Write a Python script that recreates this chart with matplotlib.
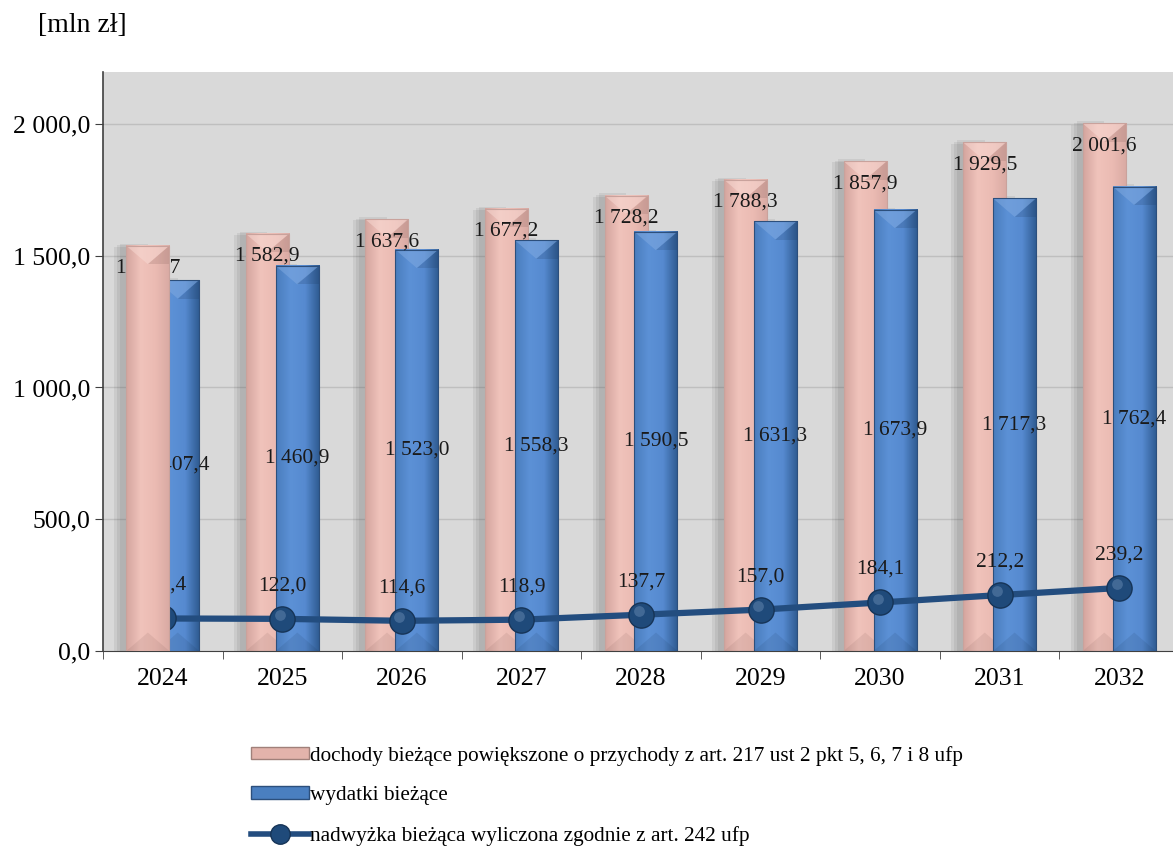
import numpy as np
import matplotlib
matplotlib.use("Agg")
import matplotlib.pyplot as plt
from matplotlib.lines import Line2D
from matplotlib.patches import Patch
from matplotlib.colors import LinearSegmentedColormap

years = ["2024", "2025", "2026", "2027", "2028", "2029", "2030", "2031", "2032"]
dochody = [1537.7, 1582.9, 1637.6, 1677.2, 1728.2, 1788.3, 1857.9, 1929.5, 2001.6]
wydatki = [1407.4, 1460.9, 1523.0, 1558.3, 1590.5, 1631.3, 1673.9, 1717.3, 1762.4]
nadwyzka = [123.4, 122.0, 114.6, 118.9, 137.7, 157.0, 184.1, 212.2, 239.2]
yticks = [0, 500, 1000, 1500, 2000]

labels_legend = ["dochody bieżące powiększone o przychody z art. 217 ust 2 pkt 5, 6, 7 i 8 ufp",
                 "wydatki bieżące",
                 "nadwyżka bieżąca wyliczona zgodnie z art. 242 ufp"]

def fmt(v):
    return f"{v:,.1f}".replace(",", " ").replace(".", ",")

plt.rcParams['font.family'] = ['Liberation Serif', 'DejaVu Serif']
fig = plt.figure(figsize=(11.73, 8.47), dpi=100)
ax = fig.add_axes([103/1173, 1 - 651/847, 1076/1173, (651 - 72)/847])

ax.set_xlim(-0.5, 8.5)
ax.set_ylim(0, 2197)
ax.set_facecolor("#d9d9d9")
for y in yticks[1:]:
    ax.axhline(y, color="#bfbfbf", lw=1, zorder=0.5)

x = np.arange(len(years))
w = 0.36
off = 0.125

pink_cmap = LinearSegmentedColormap.from_list("p", ["#d4a59e", "#f0c3bb", "#ebbbb3", "#d9aaa3"])
blue_cmap = LinearSegmentedColormap.from_list("b", ["#4a7dbd", "#5c91d6", "#568ad0", "#2e5a90"])
gradient = np.linspace(0, 1, 64).reshape(1, -1)

def draw_bars(xs, vals, cmap, edge, z_list, bevel_light, bevel_dark):
    bars = ax.bar(xs, vals, width=w, color="none", edgecolor="none", lw=0, zorder=0)
    for b, z in zip(bars, z_list):
        x0, y0 = b.get_x(), b.get_y()
        bw, bh = b.get_width(), b.get_height()
        for k, a in enumerate([0.10, 0.10, 0.10]):
            ax.fill_between([x0 - 0.05 - 0.025 * k, x0 + bw / 2], 0, bh + 8 - 6 * k,
                            color="#505050", alpha=a, zorder=1, lw=0)
        ax.imshow(gradient, extent=[x0, x0 + bw, y0, y0 + bh], aspect="auto",
                  cmap=cmap, vmin=0, vmax=1, zorder=z, interpolation="bicubic")
        th = 70
        ax.fill([x0, x0 + bw, x0 + bw / 2], [y0 + bh, y0 + bh, y0 + bh - th],
                color=bevel_light, alpha=0.55, zorder=z + 0.1, lw=0)
        ax.fill([x0 + bw, x0 + bw, x0 + bw / 2], [y0 + bh, y0 + bh - th, y0 + bh - th],
                color=bevel_dark, alpha=0.18, zorder=z + 0.1, lw=0)
        ax.fill([x0, x0 + bw, x0 + bw / 2], [y0, y0, y0 + th],
                color=bevel_dark, alpha=0.12, zorder=z + 0.1, lw=0)
        ax.plot([x0, x0, x0 + bw, x0 + bw, x0], [y0, y0 + bh, y0 + bh, y0, y0],
                color=edge, lw=0.8, zorder=z + 0.2)
    return bars

# reference quirk: first-category pink bar is drawn over its labels and the line
pink_z = [9] + [2] * 8
blue_z = [3] * 9
draw_bars(x - off, dochody, pink_cmap, "#c9a29c", pink_z, "#f7d8d2", "#7a5550")
draw_bars(x + off, wydatki, blue_cmap, "#2c4f7c", blue_z, "#7fa9e0", "#1a3558")

ax.plot(x, nadwyzka, color="#234d7f", lw=4.5, zorder=5, solid_capstyle="round")
ax.scatter(x, nadwyzka, s=330, color="#1f4a7a", edgecolor="#163457", lw=1, zorder=6)
ax.scatter(x - 0.02, np.array(nadwyzka) + 14, s=60, color="#6d8fb8", alpha=0.45, lw=0, zorder=7)

fs_tick = 18.5
fs_lab = 15.5
fs_leg = 15.3
for i in range(len(years)):
    zt = 8.5 if i == 0 else 10
    ax.text(x[i] - off, dochody[i] - 85, fmt(dochody[i]), ha="center", va="center",
            fontsize=fs_lab, color="#1a1a1a", zorder=zt)
    ax.text(x[i] + off, wydatki[i] / 2, fmt(wydatki[i]), ha="center", va="center",
            fontsize=fs_lab, color="#1a1a1a", zorder=zt)
    ax.text(x[i], nadwyzka[i] + 125, fmt(nadwyzka[i]), ha="center", va="center",
            fontsize=fs_lab, color="#1a1a1a", zorder=zt)

ax.set_yticks(yticks)
ax.set_yticklabels([fmt(v) for v in yticks], fontsize=fs_tick)
ax.set_xticks(x)
ax.set_xticklabels(years, fontsize=fs_tick)
ax.set_xticks(np.arange(-0.5, 9, 1), minor=True)
ax.tick_params(axis="x", which="major", length=0, pad=12)
ax.tick_params(axis="x", which="minor", length=6, color="#404040")
ax.tick_params(axis="y", length=6, color="#404040", pad=3)
for s in ["top", "right"]:
    ax.spines[s].set_visible(False)
ax.spines["left"].set_color("#404040")
ax.spines["bottom"].set_color("#404040")
ax.spines["left"].set_linewidth(1.2)

fig.text(38/1173, 1 - 25/847, "[mln zł]", fontsize=20, ha="left", va="center")

handles = [Patch(facecolor="#e3b3ab", edgecolor="#a0807a"),
           Patch(facecolor="#4a7fc0", edgecolor="#2c4f7c"),
           Line2D([0], [0], color="#234d7f", lw=4, marker="o", markersize=14,
                  markerfacecolor="#1f4a7a", markeredgecolor="#163457")]
leg = fig.legend(handles, labels_legend, loc="upper left", bbox_to_anchor=(240/1173, 1 - 735/847),
                 frameon=False, fontsize=fs_leg, handlelength=2.75, handleheight=0.55,
                 handletextpad=0.05, labelspacing=0.98, borderpad=0)

fig.savefig("out.png", dpi=100)
